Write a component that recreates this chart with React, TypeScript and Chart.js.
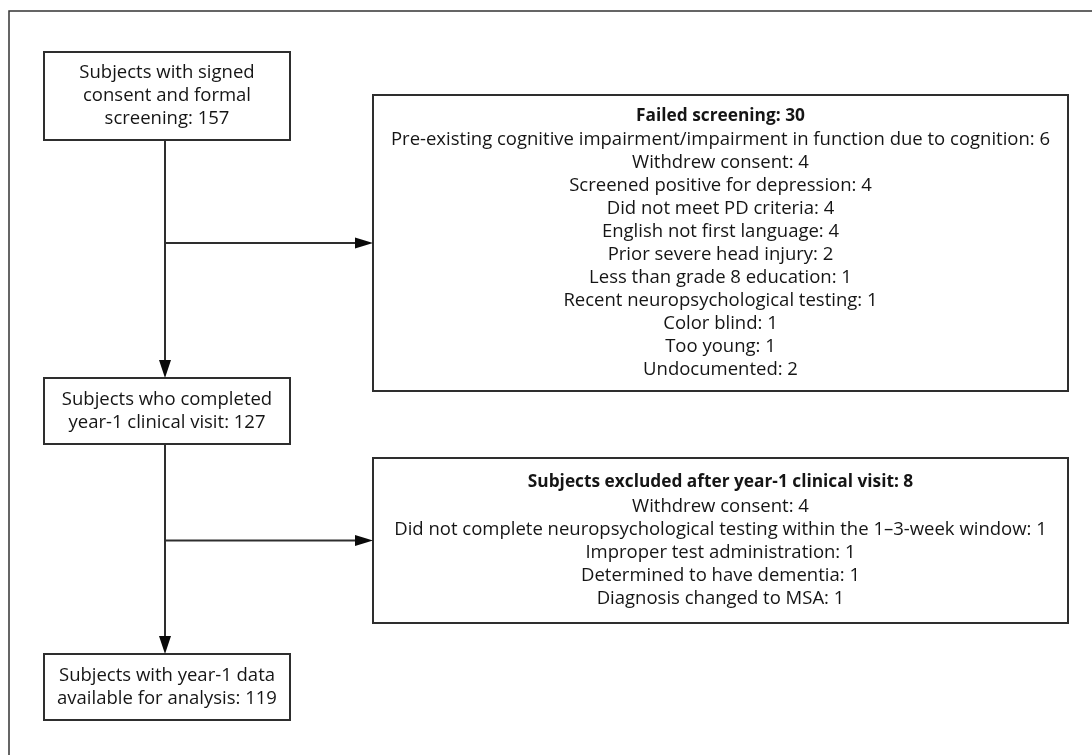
import { useEffect, useRef } from "react";
import { Chart, registerables } from "chart.js";

Chart.register(...registerables);

// ---- Data ----
const mainStepText: string[][] = [
  ["Subjects with signed", "consent and formal", "screening:"],
  ["Subjects who completed", "year-1 clinical visit:"],
  ["Subjects with year-1 data", "available for analysis:"],
];
const mainStepCounts = [157, 127, 119];

const failedTitle = "Failed screening";
const failedReasons = [
  "Pre-existing cognitive impairment/impairment in function due to cognition",
  "Withdrew consent",
  "Screened positive for depression",
  "Did not meet PD criteria",
  "English not first language",
  "Prior severe head injury",
  "Less than grade 8 education",
  "Recent neuropsychological testing",
  "Color blind",
  "Too young",
  "Undocumented",
];
const failedCounts = [6, 4, 4, 4, 4, 2, 1, 1, 1, 1, 2];

const excludedTitle = "Subjects excluded after year-1 clinical visit";
const excludedReasons = [
  "Withdrew consent",
  "Did not complete neuropsychological testing within the 1\u20133-week window",
  "Improper test administration",
  "Determined to have dementia",
  "Diagnosis changed to MSA",
];
const excludedCounts = [4, 1, 1, 1, 1];

// ---- Layout (in chart units) ----
const W = 1092;
const H = 755;
const frame = { left: 9, top: 11 };
const mainBox = { x0: 44, x1: 290, trunkX: 165 };
const mainBoxY = [
  [52, 140],
  [378, 444],
  [654, 720],
];
const sideBox = { x0: 373, x1: 1068 };
const sideBoxY = [
  [95, 391],
  [458, 623],
];
const FONT = "'Open Sans', 'Noto Sans', sans-serif";
const FONT_SIZE = 18.5;
const TITLE_FONT_SIZE = 17.3;

const flowPlugin = {
  id: "flow",
  afterDraw(chart: any) {
    const ctx: CanvasRenderingContext2D = chart.ctx;
    const xs = chart.scales.x;
    const ys = chart.scales.y;
    const px = (v: number) => xs.getPixelForValue(v);
    const py = (v: number) => ys.getPixelForValue(v);
    const stroke = "#2e2e2e";
    const textColor = "#151515";

    ctx.save();
    // outer frame (only top/left visible)
    ctx.strokeStyle = "#333";
    ctx.lineWidth = 1.5;
    ctx.strokeRect(px(frame.left), py(frame.top), px(W + 20) - px(frame.left), py(H + 20) - py(frame.top));

    ctx.lineWidth = 2;
    ctx.strokeStyle = stroke;
    ctx.fillStyle = stroke;

    const box = (x0: number, y0: number, x1: number, y1: number) => {
      ctx.strokeRect(px(x0), py(y0), px(x1) - px(x0), py(y1) - py(y0));
    };
    const line = (x0: number, y0: number, x1: number, y1: number) => {
      ctx.beginPath();
      ctx.moveTo(px(x0), py(y0));
      ctx.lineTo(px(x1), py(y1));
      ctx.stroke();
    };
    const arrowDown = (x: number, yTip: number) => {
      ctx.beginPath();
      ctx.moveTo(px(x), py(yTip));
      ctx.lineTo(px(x - 6), py(yTip - 18));
      ctx.lineTo(px(x + 6), py(yTip - 18));
      ctx.closePath();
      ctx.fillStyle = "#0a0a0a";
      ctx.fill();
    };
    const arrowRight = (xTip: number, y: number) => {
      ctx.beginPath();
      ctx.moveTo(px(xTip), py(y));
      ctx.lineTo(px(xTip - 18), py(y - 5.5));
      ctx.lineTo(px(xTip - 18), py(y + 5.5));
      ctx.closePath();
      ctx.fillStyle = "#0a0a0a";
      ctx.fill();
    };

    // main boxes
    mainBoxY.forEach(([y0, y1], i) => {
      box(mainBox.x0, y0, mainBox.x1, y1);
      const lines = mainStepText[i].slice();
      lines[lines.length - 1] = lines[lines.length - 1] + " " + mainStepCounts[i];
      const spacing = 23;
      const cy = (y0 + y1) / 2;
      const first = cy - ((lines.length - 1) * spacing) / 2;
      ctx.font = `${FONT_SIZE}px ${FONT}`;
      ctx.fillStyle = textColor;
      ctx.textAlign = "center";
      ctx.textBaseline = "middle";
      lines.forEach((t, k) => ctx.fillText(t, px((mainBox.x0 + mainBox.x1) / 2), py(first + k * spacing)));
    });

    // side boxes
    const sides = [
      { title: failedTitle, total: failedCounts.reduce((a, b) => a + b, 0), reasons: failedReasons, counts: failedCounts, titleGap: 23 },
      { title: excludedTitle, total: excludedCounts.reduce((a, b) => a + b, 0), reasons: excludedReasons, counts: excludedCounts, titleGap: 25 },
    ];
    sides.forEach((s, i) => {
      const [y0, y1] = sideBoxY[i];
      box(sideBox.x0, y0, sideBox.x1, y1);
      const spacing = 23;
      const span = s.titleGap + (s.reasons.length - 1) * spacing;
      const cy = (y0 + y1) / 2;
      const top = cy - span / 2;
      const cx = (sideBox.x0 + sideBox.x1) / 2;
      ctx.fillStyle = textColor;
      ctx.textAlign = "center";
      ctx.textBaseline = "middle";
      ctx.font = `bold ${TITLE_FONT_SIZE}px ${FONT}`;
      ctx.fillText(`${s.title}: ${s.total}`, px(cx), py(top));
      ctx.font = `${FONT_SIZE}px ${FONT}`;
      s.reasons.forEach((r, k) => {
        ctx.fillText(`${r}: ${s.counts[k]}`, px(cx), py(top + s.titleGap + k * spacing));
      });
    });

    // connectors
    ctx.strokeStyle = stroke;
    ctx.lineWidth = 2;
    for (let i = 0; i < 2; i++) {
      const yStart = mainBoxY[i][1];
      const yEnd = mainBoxY[i + 1][0];
      line(mainBox.trunkX, yStart, mainBox.trunkX, yEnd - 16);
      arrowDown(mainBox.trunkX, yEnd);
      const by = (sideBoxY[i][0] + sideBoxY[i][1]) / 2;
      line(mainBox.trunkX, by, sideBox.x0 - 16, by);
      arrowRight(sideBox.x0, by);
    }
    ctx.restore();
  },
};

export default function App() {
  const ref = useRef<HTMLCanvasElement | null>(null);
  useEffect(() => {
    document.body.style.margin = "0";
    const canvas = ref.current!;
    const centers = mainBoxY.map(([a, b]) => ({ x: (mainBox.x0 + mainBox.x1) / 2, y: (a + b) / 2 }))
      .concat(sideBoxY.map(([a, b]) => ({ x: (sideBox.x0 + sideBox.x1) / 2, y: (a + b) / 2 })));
    const chart = new Chart(canvas, {
      type: "scatter",
      data: {
        datasets: [{ data: centers, pointRadius: 0, pointHoverRadius: 0 }],
      },
      options: {
        animation: false,
        responsive: false,
        maintainAspectRatio: false,
        layout: { padding: 0 },
        plugins: { legend: { display: false }, tooltip: { enabled: false } },
        events: [],
        scales: {
          x: { type: "linear", min: 0, max: W, display: false },
          y: { type: "linear", min: 0, max: H, reverse: true, display: false },
        },
      },
      plugins: [flowPlugin],
    });
    return () => chart.destroy();
  }, []);
  return (
    <div style={{ width: W, height: H, background: "#fff" }}>
      <canvas ref={ref} width={W} height={H} style={{ display: "block", width: W, height: H }} />
    </div>
  );
}
